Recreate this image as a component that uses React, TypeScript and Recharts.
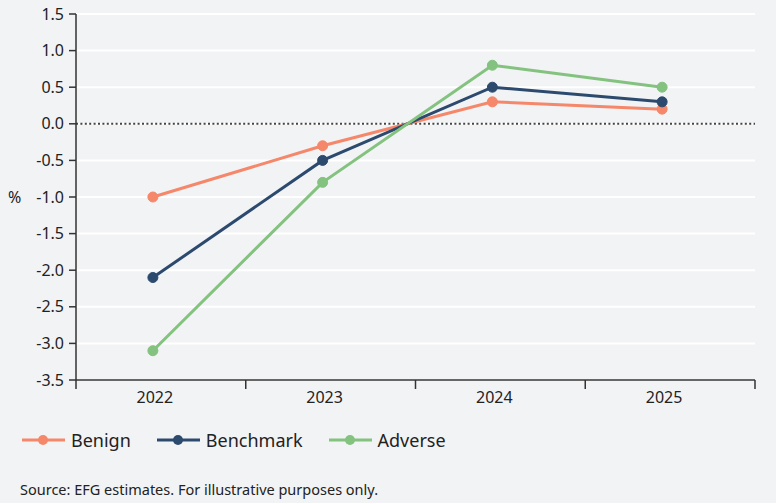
import { LineChart, Line, XAxis, YAxis, CartesianGrid, ReferenceLine } from "recharts";

const years = ["2022", "2023", "2024", "2025"];
const benign = [-1.0, -0.3, 0.3, 0.2];
const benchmark = [-2.1, -0.5, 0.5, 0.3];
const adverse = [-3.1, -0.8, 0.8, 0.5];
const yTicks = [-3.5, -3.0, -2.5, -2.0, -1.5, -1.0, -0.5, 0.0, 0.5, 1.0, 1.5];

const series = [
  { key: "benign", name: "Benign", color: "#f5876a" },
  { key: "benchmark", name: "Benchmark", color: "#2c4a6e" },
  { key: "adverse", name: "Adverse", color: "#84c27f" },
];

const data = years.map((year, i) => ({
  year,
  benign: benign[i],
  benchmark: benchmark[i],
  adverse: adverse[i],
}));

const FONT = "'Noto Sans', sans-serif";
const BAND = (755 - 76) / years.length;
const SHIFT = 8;

function YearTick(props: any) {
  const { x, y, payload, index } = props;
  const left = x - BAND / 2 + SHIFT;
  return (
    <g>
      <line x1={left} x2={left} y1={y} y2={y + 9} stroke="#333" strokeWidth={1.5} />
      {index === years.length - 1 && (
        <line x1={left + BAND} x2={left + BAND} y1={y} y2={y + 9} stroke="#333" strokeWidth={1.5} />
      )}
      <text x={x + 2} y={y + 23} textAnchor="middle" fill="#222" fontSize={16} fontFamily={FONT}>
        {payload.value}
      </text>
    </g>
  );
}

export default function App() {
  return (
    <div
      style={{
        position: "absolute",
        top: 0,
        left: 0,
        width: 776,
        height: 503,
        background: "#f2f3f5",
        fontFamily: FONT,
      }}
    >
      <LineChart width={776} height={415} data={data} margin={{ top: 14, right: 21, bottom: 0, left: 0 }}>
        <CartesianGrid vertical={false} stroke="#ffffff" strokeWidth={2} />
        <XAxis
          dataKey="year"
          scale="band"
          tick={<YearTick />}
          tickLine={false}
          tickSize={0}
          tickMargin={0}
          axisLine={{ stroke: "#333", strokeWidth: 1.5 }}
          padding={{ left: -SHIFT, right: SHIFT }}
          height={35}
          interval={0}
        />
        <YAxis
          width={76}
          domain={[-3.5, 1.5]}
          ticks={yTicks}
          interval={0}
          tickFormatter={(v: number) => v.toFixed(1)}
          tickSize={7}
          tickMargin={5}
          tick={{ fill: "#222", fontSize: 16, fontFamily: FONT }}
          tickLine={{ stroke: "#333", strokeWidth: 1.5 }}
          axisLine={{ stroke: "#333", strokeWidth: 1.5 }}
          label={{ value: "%", position: "insideLeft", offset: 8, fill: "#222", fontSize: 16, fontFamily: FONT }}
        />
        <ReferenceLine y={0} stroke="#444" strokeWidth={2} strokeDasharray="2 2.4" />
        {series.map((s) => (
          <Line
            key={s.key}
            dataKey={s.key}
            name={s.name}
            stroke={s.color}
            strokeWidth={3}
            dot={{ r: 5, fill: s.color, stroke: s.color, strokeWidth: 1 }}
            activeDot={false}
            isAnimationActive={false}
          />
        ))}
      </LineChart>
      <div style={{ position: "absolute", left: 22, top: 428, display: "flex", alignItems: "center" }}>
        {series.map((s) => (
          <div key={s.key} style={{ display: "flex", alignItems: "center", marginRight: 26 }}>
            <svg width={43} height={14} style={{ marginRight: 6 }}>
              <line x1={0} x2={43} y1={7} y2={7} stroke={s.color} strokeWidth={3} />
              <circle cx={21} cy={7} r={5} fill={s.color} />
            </svg>
            <span style={{ fontSize: 18, color: "#222" }}>{s.name}</span>
          </div>
        ))}
      </div>
      <div style={{ position: "absolute", left: 20, top: 479, fontSize: 14.5, color: "#222" }}>
        Source: EFG estimates. For illustrative purposes only.
      </div>
    </div>
  );
}
